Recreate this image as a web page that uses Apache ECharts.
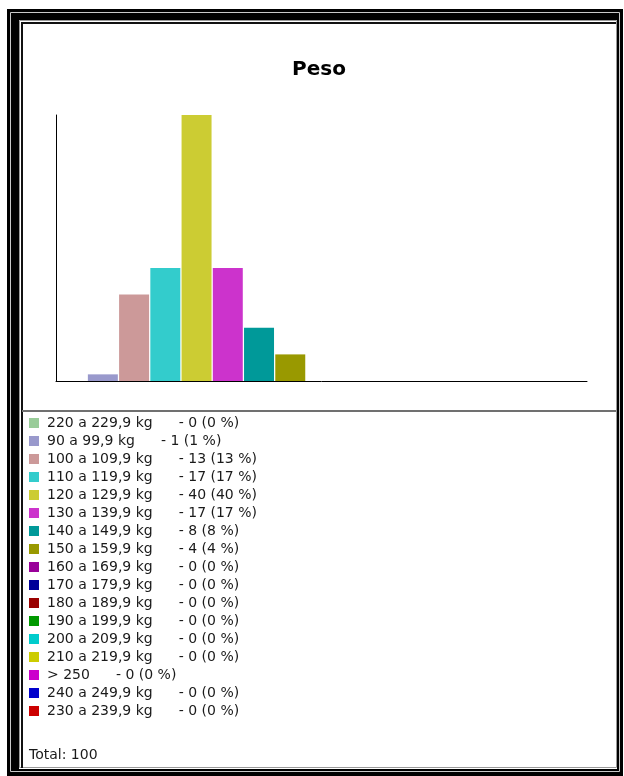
<!DOCTYPE html>
<html>
<head>
<meta charset="utf-8">
<script src="https://cdn.jsdelivr.net/npm/echarts@6/dist/echarts.min.js"></script>
<style>
  html, body { margin: 0; padding: 0; background: #fff; }
  #chart { width: 624px; height: 776px; }
</style>
</head>
<body>
<div id="chart"></div>
<script>
const titleText = 'Peso';
const categories = [
  '220 a 229,9 kg', '90 a 99,9 kg', '100 a 109,9 kg', '110 a 119,9 kg',
  '120 a 129,9 kg', '130 a 139,9 kg', '140 a 149,9 kg', '150 a 159,9 kg',
  '160 a 169,9 kg', '170 a 179,9 kg', '180 a 189,9 kg', '190 a 199,9 kg',
  '200 a 209,9 kg', '210 a 219,9 kg', '> 250', '240 a 249,9 kg', '230 a 239,9 kg'
];
const counts = [0, 1, 13, 17, 40, 17, 8, 4, 0, 0, 0, 0, 0, 0, 0, 0, 0];
const colors = [
  '#99cc99', '#9999cc', '#cc9999', '#33cccc', '#cccc33', '#cc33cc', '#009999', '#999900',
  '#990099', '#000099', '#990000', '#009900', '#00cccc', '#cccc00', '#cc00cc', '#0000cc', '#cc0000'
];
const yMax = 40;

const total = counts.reduce((a, b) => a + b, 0);
const FONT = '"DejaVu Sans", Verdana, sans-serif';

const series = categories.map((name, i) => ({
  name: name,
  type: 'bar',
  stack: 'all',
  barCategoryGap: '4%',
  itemStyle: { color: colors[i] },
  data: categories.map((_, j) => (j === i ? counts[i] : '-'))
}));

const chart = echarts.init(document.getElementById('chart'));
chart.setOption({
  animation: false,
  backgroundColor: '#fff',
  title: {
    text: titleText,
    left: 292,
    top: 60,
    padding: 0,
    textStyle: { fontFamily: FONT, fontWeight: 'bold', fontSize: 20, color: '#000' }
  },
  grid: { left: 56, right: 37, top: 115, bottom: 395 },
  xAxis: {
    type: 'category',
    data: categories,
    axisLine: { show: true, lineStyle: { color: '#000', width: 1 } },
    axisTick: { show: false },
    axisLabel: { show: false },
    splitLine: { show: false }
  },
  yAxis: {
    type: 'value',
    min: 0,
    max: yMax,
    axisLine: { show: true, lineStyle: { color: '#000', width: 1 } },
    axisTick: { show: false },
    axisLabel: { show: false },
    splitLine: { show: false }
  },
  legend: {
    orient: 'vertical',
    left: 29,
    top: 414,
    padding: 0,
    itemGap: 0,
    itemWidth: 10,
    itemHeight: 10,
    icon: 'rect',
    selectedMode: false,
    data: categories,
    formatter: function (name) {
      const i = categories.indexOf(name);
      const v = counts[i];
      const pct = Math.round(v / total * 100);
      return '{a|' + name + '}{b|- ' + v + ' (' + pct + ' %)}';
    },
    textStyle: {
      fontFamily: FONT, fontSize: 14, color: '#1a1a1a', lineHeight: 18,
      rich: {
        a: { fontFamily: FONT, fontSize: 14, color: '#1a1a1a', lineHeight: 18, padding: [0, 0, 0, 3] },
        b: { fontFamily: FONT, fontSize: 14, color: '#1a1a1a', lineHeight: 18, padding: [0, 0, 0, 26] }
      }
    }
  },
  graphic: [
    { type: 'rect', silent: true, z: -10, shape: { x: 7, y: 9, width: 616, height: 767 }, style: { fill: '#000' } },
    { type: 'rect', silent: true, z: -9, shape: { x: 10.5, y: 12.5, width: 609, height: 759 }, style: { fill: null, stroke: '#c8c8c8', lineWidth: 1 } },
    { type: 'rect', silent: true, z: -8, shape: { x: 19, y: 20, width: 598, height: 749 }, style: { fill: '#fff' } },
    { type: 'rect', silent: true, z: -7, shape: { x: 19.5, y: 20.5, width: 597, height: 747 }, style: { fill: null, stroke: '#999', lineWidth: 1 } },
    { type: 'line', silent: true, z: -6, shape: { x1: 22, y1: 22, x2: 22, y2: 768 }, style: { stroke: '#111', lineWidth: 2 } },
    { type: 'line', silent: true, z: -6, shape: { x1: 21, y1: 23, x2: 616, y2: 23 }, style: { stroke: '#111', lineWidth: 2 } },
    { type: 'line', silent: true, z: -6, shape: { x1: 22, y1: 411, x2: 616, y2: 411 }, style: { stroke: '#707070', lineWidth: 2 } },
    {
      type: 'text', silent: true, z: 10, x: 29, y: 755,
      style: { text: 'Total: ' + total, font: '14px ' + FONT, fill: '#1a1a1a', textVerticalAlign: 'middle' }
    }
  ],
  series: series
});
</script>
</body>
</html>
